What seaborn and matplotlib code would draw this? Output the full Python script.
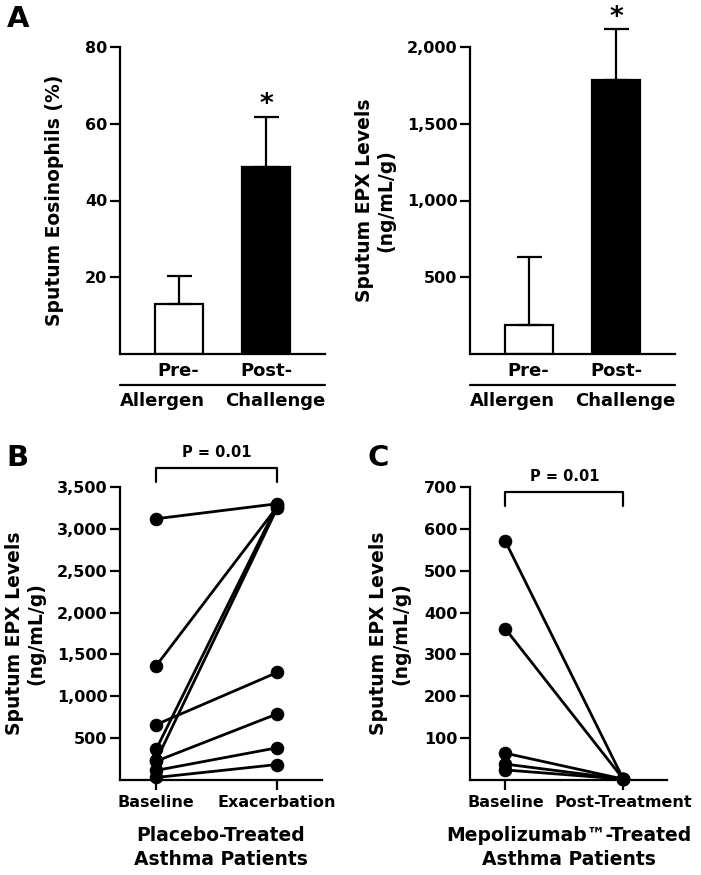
import pandas as pd
import seaborn as sns
import matplotlib.pyplot as plt
from matplotlib.ticker import FuncFormatter

# Panel A data (bar means and upper error)
groups = ["Pre-", "Post-"]
eos_mean = [13.0, 48.7]
eos_err = [7.2, 13.1]
epx_mean = [190, 1785]
epx_err = [442, 332]

# Panel B data (placebo-treated patients, paired)
placebo_baseline = [3121, 1366, 662, 370, 235, 225, 115, 30]
placebo_exacerbation = [3300, 3265, 1285, 3285, 3250, 790, 385, 185]

# Panel C data (mepolizumab-treated patients, paired)
mepo_baseline = [570, 361, 64, 38, 24]
mepo_post = [2, 2, 2, 2, 2]

sns.set_theme(style="ticks")
plt.rcParams["font.family"] = ["DejaVu Sans"]
plt.rcParams["font.weight"] = "bold"
plt.rcParams["axes.labelweight"] = "bold"
for key in ["text.color", "axes.labelcolor", "xtick.color", "ytick.color", "axes.edgecolor"]:
    plt.rcParams[key] = "black"
plt.rcParams["axes.linewidth"] = 1.6
plt.rcParams["xtick.major.width"] = 1.6
plt.rcParams["ytick.major.width"] = 1.6
plt.rcParams["ytick.major.size"] = 7
plt.rcParams["xtick.major.size"] = 7
plt.rcParams["ytick.major.pad"] = 2
plt.rcParams["xtick.major.pad"] = 4
plt.rcParams["xtick.labelsize"] = 11.5
plt.rcParams["ytick.labelsize"] = 11.5
plt.rcParams["axes.labelsize"] = 13.5

fig = plt.figure(figsize=(7.01, 8.75), dpi=100)
W, H = 701, 875


def add_ax(x0, x1, ytop, ybot):
    return fig.add_axes([x0 / W, 1 - ybot / H, (x1 - x0) / W, (ybot - ytop) / H])


comma = FuncFormatter(lambda v, p: f"{int(v):,}")


def bar_panel(ax, means, errs, top, ticks, star_y, ylabel, pad):
    df = pd.DataFrame({"group": groups, "value": means})
    sns.barplot(data=df, x="group", y="value", hue="group", palette=["white", "black"],
                edgecolor="black", linewidth=1.6, width=0.55, legend=False, ax=ax)
    ax.errorbar([0, 1], means, yerr=[[0, 0], errs], fmt="none", ecolor="black",
                elinewidth=1.6, capsize=9, capthick=1.6, clip_on=False, zorder=3)
    ax.text(1, star_y, "*", ha="center", va="center", fontsize=19, fontweight="bold")
    ax.set_ylim(0, top)
    ax.set_yticks(ticks)
    ax.yaxis.set_major_formatter(comma)
    ax.set_xlim(-0.67, 1.67)
    ax.set_xlabel("")
    ax.set_ylabel(ylabel, labelpad=pad)
    ax.tick_params(axis="x", length=0, labelsize=13, pad=6)
    sns.despine(ax=ax)
    ax.plot([0, 1], [-0.102, -0.102], color="black", lw=1.6, transform=ax.transAxes, clip_on=False)
    ax.text(0.0, -0.152, "Allergen", ha="left", va="center", fontsize=13,
            fontweight="bold", transform=ax.transAxes)
    ax.text(1.0, -0.152, "Challenge", ha="right", va="center", fontsize=13,
            fontweight="bold", transform=ax.transAxes)


ax1 = add_ax(120, 325, 47, 354)
bar_panel(ax1, eos_mean, eos_err, 80, [20, 40, 60, 80], 65,
          "Sputum Eosinophils (%)", 15.5)

ax2 = add_ax(470, 675, 47, 354)
bar_panel(ax2, epx_mean, epx_err, 2000, [500, 1000, 1500, 2000], 2190,
          "Sputum EPX Levels\n(ng/mL/g)", 8)


def paired_panel(ax, before, after, labels, top, ticks, p_y, br_top, br_bot, xlabel, pad):
    n = len(before)
    df = pd.DataFrame({
        "patient": list(range(n)) * 2,
        "time": [0] * n + [1] * n,
        "value": list(before) + list(after),
    })
    sns.lineplot(data=df, x="time", y="value", units="patient", estimator=None,
                 color="black", lw=2.0, marker="o", markersize=9,
                 markeredgecolor="black", ax=ax, clip_on=False)
    ax.set_xlim(-0.3, 1.37)
    ax.set_ylim(0, top)
    ax.set_xticks([0, 1], labels)
    ax.set_yticks(ticks)
    ax.yaxis.set_major_formatter(comma)
    ax.set_ylabel("Sputum EPX Levels\n(ng/mL/g)", labelpad=pad)
    ax.set_xlabel(xlabel, fontsize=13.5, labelpad=11, linespacing=1.35)
    sns.despine(ax=ax)
    ax.plot([0, 0, 1, 1], [br_bot, br_top, br_top, br_bot], color="black", lw=1.6, clip_on=False)
    ax.text(0.5, p_y, "P = 0.01", ha="center", va="center", fontsize=10.5, fontweight="bold")


ax3 = add_ax(120, 322, 487, 780)
paired_panel(ax3, placebo_baseline, placebo_exacerbation, ["Baseline", "Exacerbation"],
             3500, [500, 1000, 1500, 2000, 2500, 3000, 3500], 3907, 3728, 3560,
             "Placebo-Treated\nAsthma Patients", 8)

ax4 = add_ax(470, 667, 487, 780)
paired_panel(ax4, mepo_baseline, mepo_post, ["Baseline", "Post-Treatment"],
             700, [100, 200, 300, 400, 500, 600, 700], 725, 688, 654,
             "Mepolizumab™-Treated\nAsthma Patients", 10)

for lab, x, y in [("A", 18, 19), ("B", 17, 458), ("C", 378, 458)]:
    fig.text(x / W, 1 - y / H, lab, ha="center", va="center", fontsize=21, fontweight="bold")

fig.savefig("out.png", dpi=100)
